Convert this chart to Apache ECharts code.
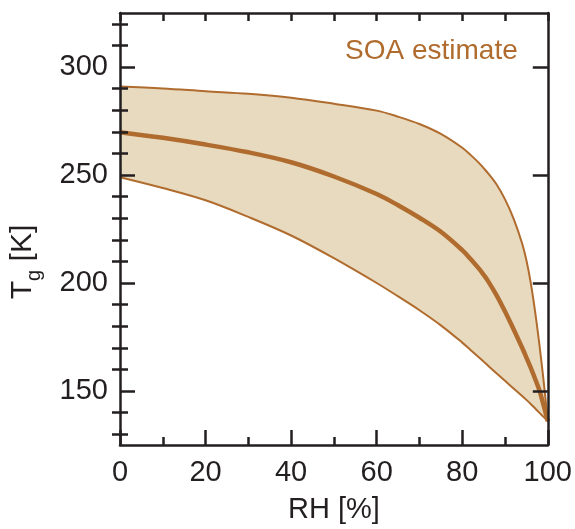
<!DOCTYPE html>
<html>
<head>
<meta charset="utf-8">
<script src="https://cdn.jsdelivr.net/npm/echarts@6/dist/echarts.min.js"></script>
<style>
  html, body { margin: 0; padding: 0; background: #ffffff; }
  #chart { width: 575px; height: 529px; }
</style>
</head>
<body>
<div id="chart"></div>
<script>
// Relative humidity grid [%] shared by the three glass-transition curves
const rh = [0, 10, 20, 30, 40, 50, 60, 65, 70, 75, 80, 82, 84, 85, 86, 88, 90, 92, 94, 95, 96, 97, 98, 99, 100];
// Upper bound of the SOA glass transition temperature [K]
const tgUpper = [291.0, 290.1, 288.8, 287.6, 285.8, 283.0, 279.8, 277.0, 273.6, 269.0, 262.6, 259.2, 255.4, 253.2, 250.9, 245.7, 238.7, 229.8, 218.3, 210.5, 200.2, 187.2, 172.0, 155.0, 136.0];
// Central estimate [K]
const tgMid = [269.8, 267.2, 264.1, 260.5, 255.9, 249.3, 241.2, 236.0, 230.2, 223.7, 215.2, 211.0, 206.4, 203.8, 201.0, 194.4, 186.8, 178.6, 170.0, 165.5, 160.8, 155.8, 150.5, 143.5, 136.0];
// Lower bound [K]
const tgLower = [249.0, 244.0, 238.3, 230.6, 222.0, 211.5, 200.0, 193.8, 187.4, 180.4, 172.4, 168.9, 165.4, 163.6, 161.8, 158.2, 154.7, 151.2, 147.7, 145.9, 144.0, 142.0, 140.0, 138.0, 136.0];

// Axis ticks and labels
const xMajor = [0, 20, 40, 60, 80, 100];
const xMinor = [10, 30, 50, 70, 90];
const xTop = [0, 10, 20, 30, 40, 50, 60, 70, 80, 90, 100];
const yMajor = [150, 200, 250, 300];
const yMinor = [130, 140, 160, 170, 180, 190, 210, 220, 230, 240, 260, 270, 280, 290, 310, 320];

const INK = '#231f20';
const BROWN = '#b06c2e';
const FILL = '#e8dabf';
const FONT = '"Liberation Sans", Arial, Helvetica, sans-serif';
const SMOOTH = 0.35;

const pair = (xs, ys) => xs.map((x, i) => [x, ys[i]]);

function axisBase(kind, position, ticks, len, opts) {
  return Object.assign({
    type: 'value',
    position: position,
    z: 10,
    min: kind === 'x' ? 0 : 125,
    max: kind === 'x' ? 100 : 325,
    splitLine: { show: false },
    axisLine: { show: false },
    axisTick: {
      show: true, inside: true, length: len, customValues: ticks,
      lineStyle: { color: INK, width: 2.5 }
    },
    axisLabel: { show: false }
  }, opts || {});
}

const frameLine = { show: true, onZero: false, lineStyle: { color: INK, width: 2.5 } };

// One smoothed line series over the shared humidity grid
function curve(name, ys, z, style) {
  return Object.assign({
    name: name, type: 'line', z: z,
    data: pair(rh, ys), showSymbol: false,
    smooth: SMOOTH
  }, style);
}

const chart = echarts.init(document.getElementById('chart'), null, { renderer: 'canvas' });

chart.setOption({
  animation: false,
  backgroundColor: '#ffffff',
  grid: { left: 120, right: 21, top: 13, bottom: 84, containLabel: false },
  title: {
    text: 'SOA estimate',
    left: 345, top: 37, padding: 0,
    textStyle: { color: BROWN, fontFamily: FONT, fontSize: 28, fontWeight: 'normal' }
  },
  xAxis: [
    axisBase('x', 'bottom', xMajor, 15, {
      axisLine: frameLine,
      axisLabel: {
        show: true, customValues: xMajor, margin: 13,
        color: INK, fontFamily: FONT, fontSize: 29
      },
      name: 'RH [%]', nameLocation: 'middle', nameGap: 50,
      nameTextStyle: { color: INK, fontFamily: FONT, fontSize: 29 }
    }),
    axisBase('x', 'bottom', xMinor, 8),
    axisBase('x', 'top', xTop, 8, { axisLine: frameLine })
  ],
  yAxis: [
    axisBase('y', 'left', yMajor, 15, {
      axisLine: frameLine,
      axisLabel: {
        show: true, customValues: yMajor, margin: 12,
        color: INK, fontFamily: FONT, fontSize: 29
      },
      name: '{t|T}{s|g}{t| [K]}', nameLocation: 'middle', nameGap: 76,
      nameTextStyle: {
        color: INK, fontFamily: FONT, padding: [0, 66, 0, 0],
        rich: {
          t: { fontSize: 30, lineHeight: 42, verticalAlign: 'middle', color: INK, fontFamily: FONT },
          s: { fontSize: 20, lineHeight: 20, verticalAlign: 'bottom', color: INK, fontFamily: FONT }
        }
      }
    }),
    axisBase('y', 'left', yMinor, 8),
    axisBase('y', 'right', yMajor, 15, { axisLine: frameLine }),
    axisBase('y', 'right', yMinor, 8)
  ],
  series: [
    // shaded range: fill under the upper bound, then clear below the lower bound
    curve('range-top', tgUpper, 1, {
      lineStyle: { width: 0, opacity: 0 },
      areaStyle: { color: FILL, opacity: 1, origin: 'start' }
    }),
    curve('range-floor', tgLower, 2, {
      lineStyle: { width: 0, opacity: 0 },
      areaStyle: { color: '#ffffff', opacity: 1, origin: 'start' }
    }),
    curve('lower', tgLower, 3, { lineStyle: { color: BROWN, width: 2 } }),
    curve('upper', tgUpper, 3, { lineStyle: { color: BROWN, width: 2 } }),
    curve('central', tgMid, 4, { lineStyle: { color: BROWN, width: 4.5 } })
  ]
});
</script>
</body>
</html>
